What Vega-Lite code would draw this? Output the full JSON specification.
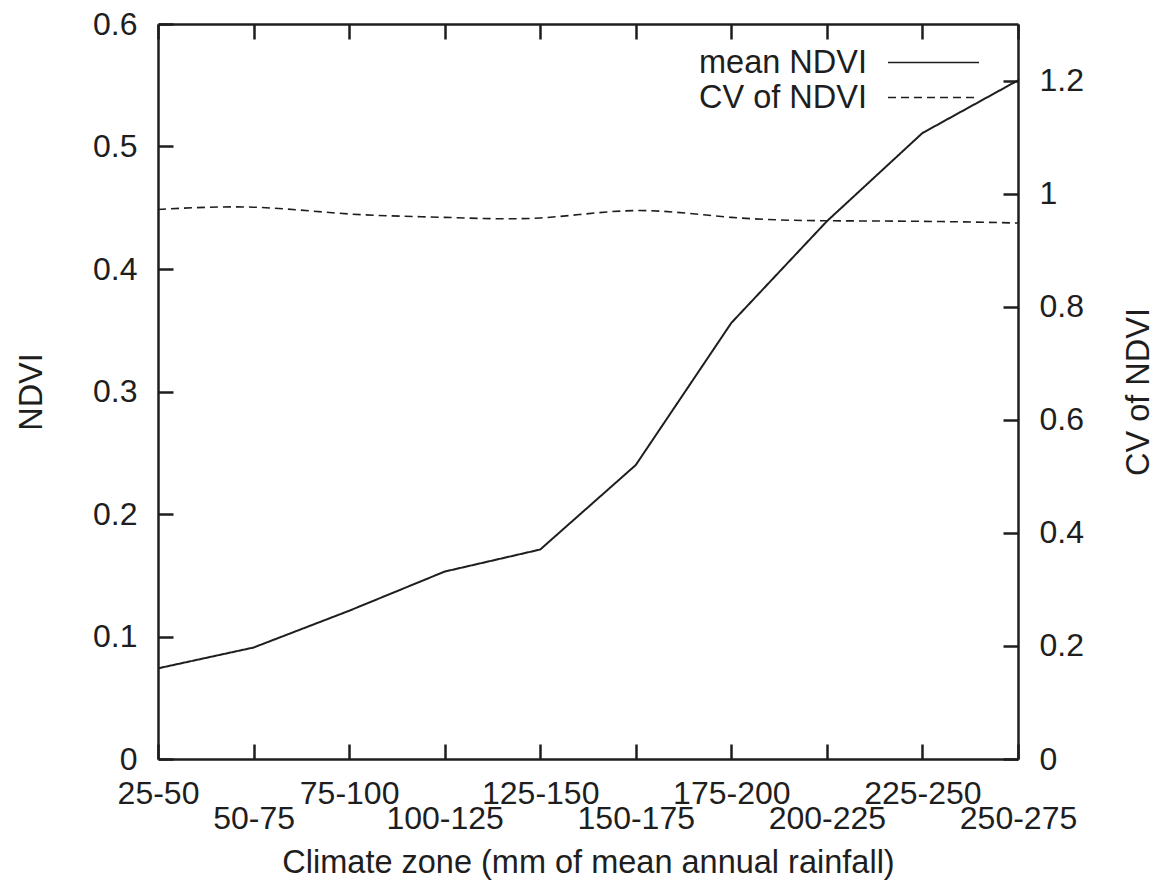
{
  "$schema": "https://vega.github.io/schema/vega-lite/v6.json",
  "width": 860,
  "height": 735,
  "autosize": {"type": "none"},
  "padding": {"left": 158, "top": 24, "right": 151, "bottom": 125},
  "background": "white",
  "data": {
    "values": [
      {"zone": "25-50", "series": "mean NDVI", "value": 0.074},
      {"zone": "50-75", "series": "mean NDVI", "value": 0.091},
      {"zone": "75-100", "series": "mean NDVI", "value": 0.121},
      {"zone": "100-125", "series": "mean NDVI", "value": 0.153},
      {"zone": "125-150", "series": "mean NDVI", "value": 0.171},
      {"zone": "150-175", "series": "mean NDVI", "value": 0.240},
      {"zone": "175-200", "series": "mean NDVI", "value": 0.356},
      {"zone": "200-225", "series": "mean NDVI", "value": 0.439},
      {"zone": "225-250", "series": "mean NDVI", "value": 0.511},
      {"zone": "250-275", "series": "mean NDVI", "value": 0.554},
      {"zone": "25-50", "series": "CV of NDVI", "value": 0.972},
      {"zone": "50-75", "series": "CV of NDVI", "value": 0.976},
      {"zone": "75-100", "series": "CV of NDVI", "value": 0.964},
      {"zone": "100-125", "series": "CV of NDVI", "value": 0.958},
      {"zone": "125-150", "series": "CV of NDVI", "value": 0.957},
      {"zone": "150-175", "series": "CV of NDVI", "value": 0.970},
      {"zone": "175-200", "series": "CV of NDVI", "value": 0.958},
      {"zone": "200-225", "series": "CV of NDVI", "value": 0.952},
      {"zone": "225-250", "series": "CV of NDVI", "value": 0.951},
      {"zone": "250-275", "series": "CV of NDVI", "value": 0.948}
    ]
  },
  "layer": [
    {
      "transform": [{"filter": "datum.series === 'mean NDVI'"}],
      "mark": {"type": "line", "color": "#1e1e1e", "strokeWidth": 2},
      "encoding": {
        "x": {
          "field": "zone", "type": "ordinal", "sort": null,
          "scale": {"type": "point", "padding": 0, "domain": ["25-50","50-75","75-100","100-125","125-150","150-175","175-200","200-225","225-250","250-275"]},
          "axis": {
            "orient": "bottom", "title": "Climate zone (mm of mean annual rainfall)",
            "labelAngle": 0, "labelOverlap": false, "labelBound": false, "labelFlush": false,
            "labelBaseline": "top", "labelLineHeight": 25, "labelPadding": 34,
            "labelExpr": "indexof(['50-75','100-125','150-175','200-225','250-275'], datum.label) >= 0 ? ['', datum.label] : datum.label",
            "titlePadding": 12
          }
        },
        "y": {
          "field": "value", "type": "quantitative",
          "scale": {"domain": [0, 0.6], "nice": false, "zero": false},
          "axis": {"orient": "left", "title": "NDVI", "values": [0, 0.1, 0.2, 0.3, 0.4, 0.5, 0.6], "format": "~g", "labelPadding": 36, "titlePadding": 44}
        },
        "strokeDash": {
          "field": "series", "type": "nominal",
          "scale": {"domain": ["mean NDVI"], "range": [[1, 0]]},
          "legend": {
            "orient": "none", "legendX": 729, "legendY": -8, "title": null,
            "symbolType": "stroke", "symbolSize": 8281, "symbolStrokeWidth": 1.6, "symbolStrokeColor": "#1e1e1e",
            "labelAlign": "right", "labelOffset": -113, "labelFontSize": 32.5, "labelFont": "Liberation Sans",
            "labelColor": "#1e1e1e", "labelLimit": 0, "padding": 0
          }
        }
      }
    },
    {
      "transform": [{"filter": "datum.series === 'CV of NDVI'"}],
      "mark": {"type": "line", "color": "#1e1e1e", "strokeWidth": 1.6, "interpolate": "natural"},
      "encoding": {
        "x": {
          "field": "zone", "type": "ordinal", "sort": null,
          "scale": {"type": "point", "padding": 0, "domain": ["25-50","50-75","75-100","100-125","125-150","150-175","175-200","200-225","225-250","250-275"]},
          "axis": {"orient": "top", "title": null, "labels": false}
        },
        "y": {
          "field": "value", "type": "quantitative",
          "scale": {"domain": [0, 1.3], "nice": false, "zero": false},
          "axis": {"orient": "right", "title": "CV of NDVI", "titleAngle": 270, "titleBaseline": "top", "values": [0, 0.2, 0.4, 0.6, 0.8, 1, 1.2], "format": "~g", "labelPadding": 36, "titlePadding": 39}
        },
        "strokeDash": {
          "field": "series", "type": "nominal",
          "scale": {"domain": ["CV of NDVI"], "range": [[8, 5]]},
          "legend": {
            "orient": "none", "legendX": 729, "legendY": 27, "title": null,
            "symbolType": "stroke", "symbolSize": 8281, "symbolStrokeWidth": 1.4, "symbolStrokeColor": "#1e1e1e",
            "labelAlign": "right", "labelOffset": -113, "labelFontSize": 32.5, "labelFont": "Liberation Sans",
            "labelColor": "#1e1e1e", "labelLimit": 0, "padding": 0
          }
        }
      }
    }
  ],
  "resolve": {
    "scale": {"x": "independent", "y": "independent", "strokeDash": "independent"},
    "legend": {"strokeDash": "independent"}
  },
  "config": {
    "view": {"stroke": null},
    "font": "Liberation Sans",
    "axis": {
      "labelFont": "Liberation Sans", "titleFont": "Liberation Sans",
      "labelFontSize": 32, "titleFontSize": 32.5, "titleFontWeight": "normal",
      "labelColor": "#1e1e1e", "titleColor": "#1e1e1e",
      "domainColor": "#1e1e1e", "domainWidth": 2.5,
      "tickColor": "#1e1e1e", "tickWidth": 2.5, "tickSize": -15,
      "grid": false
    }
  }
}
